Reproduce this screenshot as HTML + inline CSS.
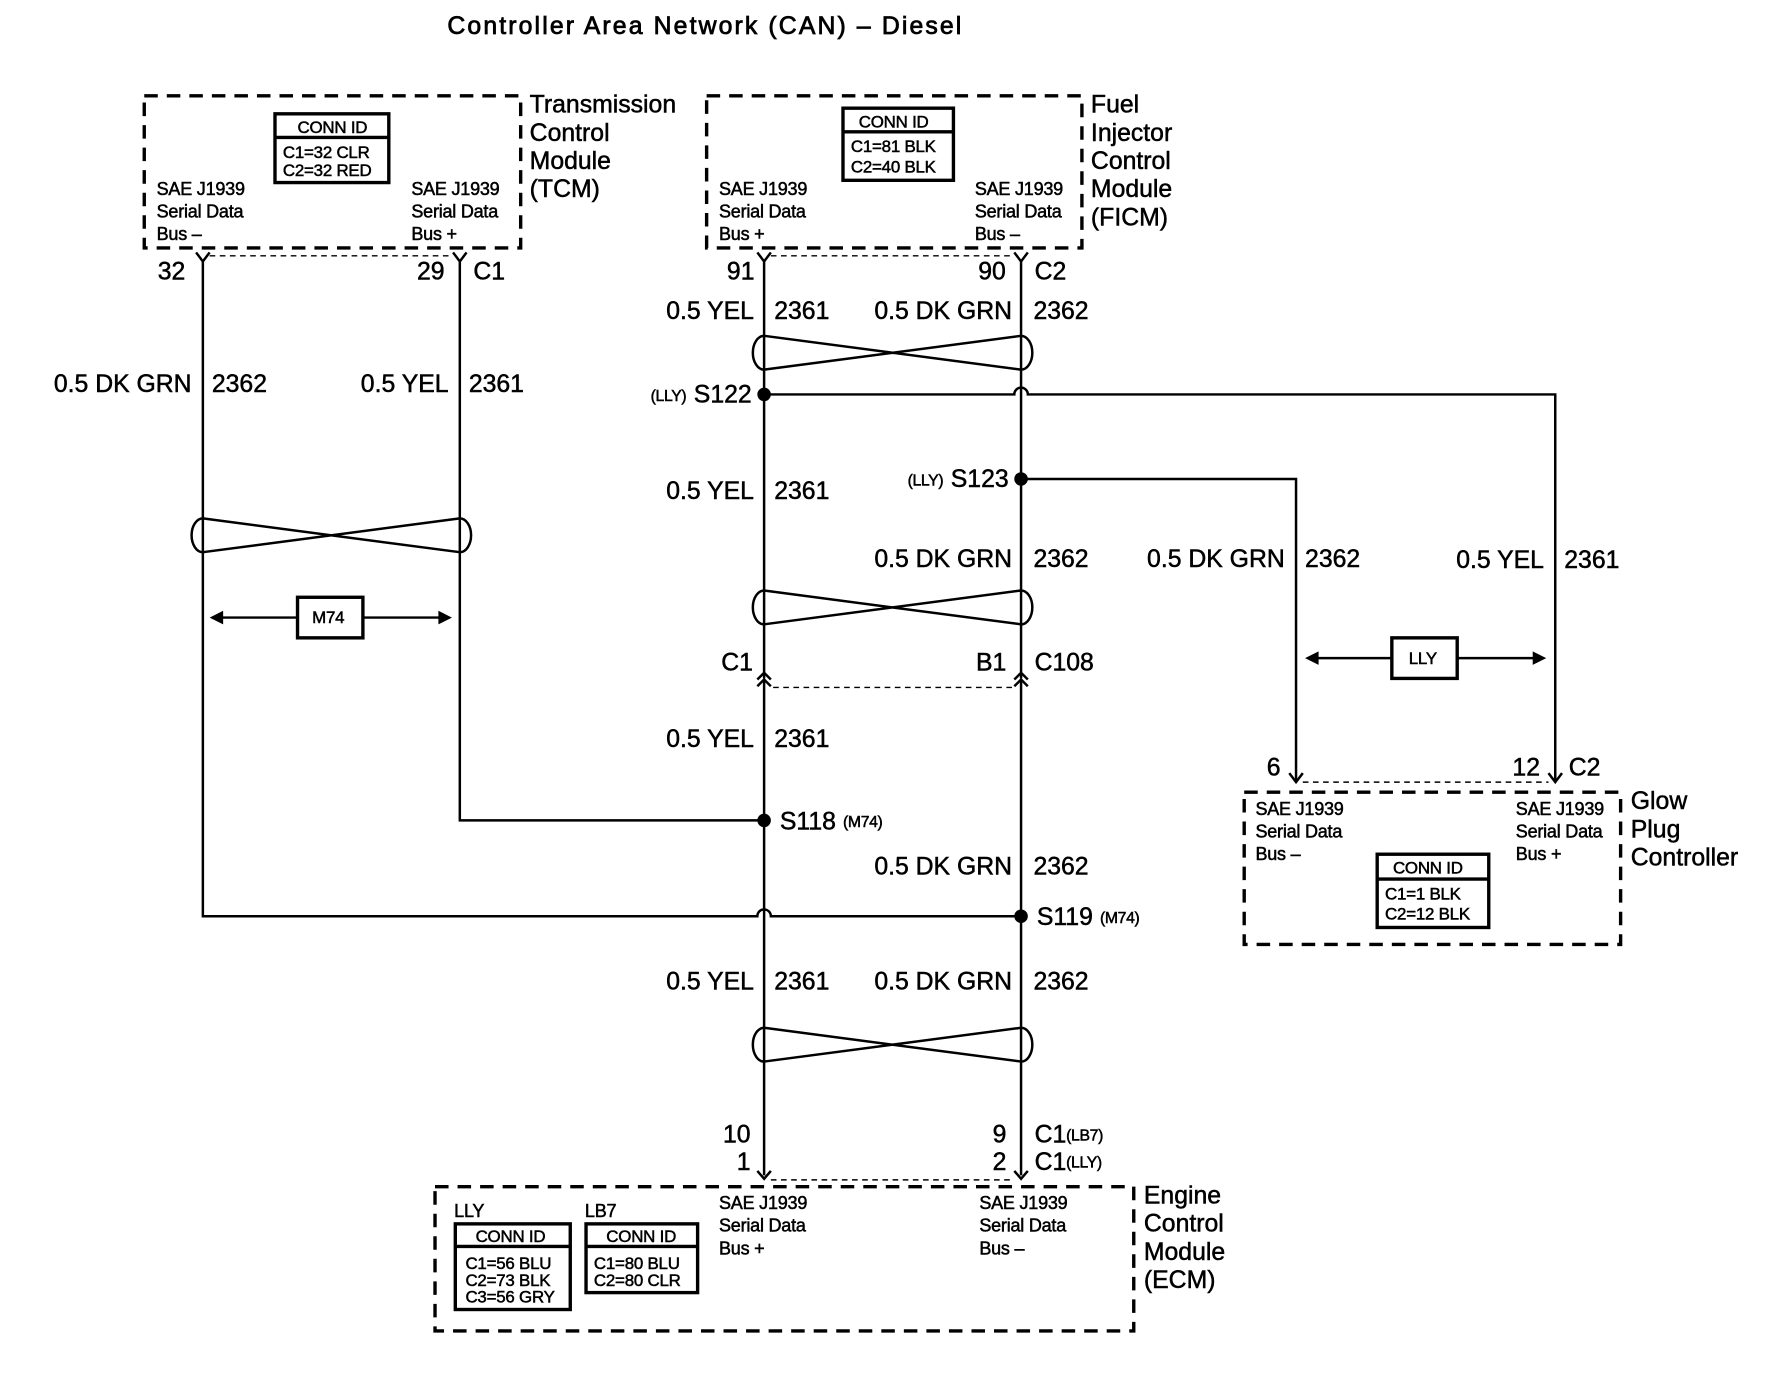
<!DOCTYPE html>
<html><head><meta charset="utf-8"><style>
html,body{margin:0;padding:0;background:#fff;}
svg{display:block;}
text{font-family:"Liberation Sans",Arial,sans-serif;fill:#000;stroke:#000;stroke-width:0.45px;}
.t{font-size:22px;}
.s{font-size:16px;letter-spacing:-0.2px;}
.xs{font-size:14px;letter-spacing:-0.3px;}
.c{font-size:15px;letter-spacing:-0.2px;}
.box{fill:none;stroke:#000;stroke-width:3;stroke-dasharray:12 8;}
.w{fill:none;stroke:#000;stroke-width:2.2;}
.d{fill:none;stroke:#000;stroke-width:1.3;stroke-dasharray:5 4;}
.k{fill:none;stroke:#000;stroke-width:3;}
</style></head><body>
<svg width="1766" height="1376" viewBox="0 0 1567 1221" preserveAspectRatio="none" xmlns="http://www.w3.org/2000/svg">
<text x="397" y="30" textLength="456" style="font-size:22px;stroke-width:0.7px">Controller Area Network (CAN) – Diesel</text>

<!-- TCM -->
<rect class="box" x="128" y="85" width="334" height="135"/>
<rect class="k" x="244" y="101" width="101" height="61"/>
<line class="k" x1="244" y1="122" x2="345" y2="122"/>
<text class="c" x="264" y="118">CONN ID</text>
<text class="c" x="251" y="140">C1=32 CLR</text>
<text class="c" x="251" y="156">C2=32 RED</text>
<text class="s" x="139" y="173">SAE J1939</text><text class="s" x="139" y="193">Serial Data</text><text class="s" x="139" y="213">Bus –</text>
<text class="s" x="365" y="173">SAE J1939</text><text class="s" x="365" y="193">Serial Data</text><text class="s" x="365" y="213">Bus +</text>
<text class="t" x="470" y="100">Transmission</text><text class="t" x="470" y="125">Control</text><text class="t" x="470" y="150">Module</text><text class="t" x="470" y="175">(TCM)</text>
<line class="d" x1="186" y1="227" x2="402" y2="227"/>
<text class="t" x="140" y="248">32</text><text class="t" x="370" y="248">29</text><text class="t" x="420" y="248">C1</text>

<!-- FICM -->
<rect class="box" x="627" y="85" width="333" height="135"/>
<rect class="k" x="748" y="96" width="98" height="64"/>
<line class="k" x1="748" y1="117" x2="846" y2="117"/>
<text class="c" x="762" y="113">CONN ID</text>
<text class="c" x="755" y="135">C1=81 BLK</text>
<text class="c" x="755" y="153">C2=40 BLK</text>
<text class="s" x="638" y="173">SAE J1939</text><text class="s" x="638" y="193">Serial Data</text><text class="s" x="638" y="213">Bus +</text>
<text class="s" x="865" y="173">SAE J1939</text><text class="s" x="865" y="193">Serial Data</text><text class="s" x="865" y="213">Bus –</text>
<text class="t" x="968" y="100">Fuel</text><text class="t" x="968" y="125">Injector</text><text class="t" x="968" y="150">Control</text><text class="t" x="968" y="175">Module</text><text class="t" x="968" y="200">(FICM)</text>
<line class="d" x1="684" y1="227" x2="900" y2="227"/>
<text class="t" x="645" y="248">91</text><text class="t" x="868" y="248">90</text><text class="t" x="918" y="248">C2</text>

<!-- Y pins top -->
<path class="w" d="M174,224 L180,232 L186,224 M402,224 L408,232 L414,224 M672,224 L678,232 L684,224 M900,224 L906,232 L912,224 M1144,686 L1150,694 L1156,686 M1374,686 L1380,694 L1386,686"/>

<!-- TCM wires -->
<path class="w" d="M180,232 V813 H672 A6,6 0 0 1 684,813 H906"/>
<path class="w" d="M408,232 V728 H678"/>
<text class="t" x="170" y="348" text-anchor="end">0.5 DK GRN</text><text class="t" x="188" y="348">2362</text>
<text class="t" x="398" y="348" text-anchor="end">0.5 YEL</text><text class="t" x="416" y="348">2361</text>
<path class="w" d="M180,460 L408,490 M180,490 L408,460 M180,460 A10,15 0 0 0 180,490 M408,460 A10,15 0 0 1 408,490"/>
<line class="w" x1="192" y1="548" x2="264" y2="548"/><line class="w" x1="322" y1="548" x2="396" y2="548"/>
<path d="M186,548 l12,-6 v12z M401,548 l-12,-6 v12z" fill="#000"/>
<rect class="k" x="264" y="530" width="58" height="36"/><text class="c" x="277" y="553">M74</text>

<!-- main verticals -->
<line class="w" x1="678" y1="232" x2="678" y2="602"/>
<line class="w" x1="906" y1="232" x2="906" y2="602"/>
<line class="w" x1="678" y1="604" x2="678" y2="1043"/>
<line class="w" x1="906" y1="604" x2="906" y2="1043"/>
<text class="t" x="669" y="283" text-anchor="end">0.5 YEL</text><text class="t" x="687" y="283">2361</text>
<text class="t" x="898" y="283" text-anchor="end">0.5 DK GRN</text><text class="t" x="917" y="283">2362</text>
<path class="w" d="M678,298 L906,328 M678,328 L906,298 M678,298 A10,15 0 0 0 678,328 M906,298 A10,15 0 0 1 906,328"/>

<!-- S122 -->
<path class="w" d="M678,350 H900 A6,6 0 0 1 912,350 H1380 V694"/>
<circle cx="678" cy="350" r="6"/>
<text class="xs" x="609" y="356" text-anchor="end">(LLY)</text><text class="t" x="667" y="357" text-anchor="end">S122</text>
<text class="t" x="669" y="443" text-anchor="end">0.5 YEL</text><text class="t" x="687" y="443">2361</text>
<!-- S123 -->
<path class="w" d="M906,425 H1150 V694"/>
<circle cx="906" cy="425" r="6"/>
<text class="xs" x="837" y="431" text-anchor="end">(LLY)</text><text class="t" x="895" y="432" text-anchor="end">S123</text>
<text class="t" x="898" y="503" text-anchor="end">0.5 DK GRN</text><text class="t" x="917" y="503">2362</text>
<text class="t" x="1140" y="503" text-anchor="end">0.5 DK GRN</text><text class="t" x="1158" y="503">2362</text>
<text class="t" x="1370" y="504" text-anchor="end">0.5 YEL</text><text class="t" x="1388" y="504">2361</text>
<path class="w" d="M678,524 L906,554 M678,554 L906,524 M678,524 A10,15 0 0 0 678,554 M906,524 A10,15 0 0 1 906,554"/>

<!-- C108 -->
<path class="w" d="M672,603 L678,597 L684,603 M672,609 L678,603 L684,609 M900,603 L906,597 L912,603 M900,609 L906,603 L912,609"/>
<line class="d" x1="686" y1="610" x2="900" y2="610"/>
<text class="t" x="640" y="595">C1</text><text class="t" x="866" y="595">B1</text><text class="t" x="918" y="595">C108</text>

<!-- LLY arrow -->
<line class="w" x1="1164" y1="584" x2="1235" y2="584"/><line class="w" x1="1293" y1="584" x2="1366" y2="584"/>
<path d="M1158,584 l12,-6 v12z M1372,584 l-12,-6 v12z" fill="#000"/>
<rect class="k" x="1235" y="566" width="58" height="36"/><text class="c" x="1250" y="589">LLY</text>

<text class="t" x="669" y="663" text-anchor="end">0.5 YEL</text><text class="t" x="687" y="663">2361</text>
<circle cx="678" cy="728" r="6"/>
<text class="t" x="692" y="736">S118</text><text class="xs" x="748" y="734">(M74)</text>
<text class="t" x="898" y="776" text-anchor="end">0.5 DK GRN</text><text class="t" x="917" y="776">2362</text>
<circle cx="906" cy="813" r="6"/>
<text class="t" x="920" y="821">S119</text><text class="xs" x="976" y="819">(M74)</text>
<text class="t" x="669" y="878" text-anchor="end">0.5 YEL</text><text class="t" x="687" y="878">2361</text>
<text class="t" x="898" y="878" text-anchor="end">0.5 DK GRN</text><text class="t" x="917" y="878">2362</text>
<path class="w" d="M678,912 L906,942 M678,942 L906,912 M678,912 A10,15 0 0 0 678,942 M906,912 A10,15 0 0 1 906,942"/>

<!-- ECM pins -->
<text class="t" x="666" y="1014" text-anchor="end">10</text><text class="t" x="666" y="1038" text-anchor="end">1</text>
<text class="t" x="893" y="1014" text-anchor="end">9</text><text class="t" x="918" y="1014">C1</text><text class="xs" x="946" y="1012">(LB7)</text>
<text class="t" x="893" y="1038" text-anchor="end">2</text><text class="t" x="918" y="1038">C1</text><text class="xs" x="946" y="1036">(LLY)</text>
<path class="w" d="M672,1039 L678,1046 L684,1039 M900,1039 L906,1046 L912,1039"/>
<line class="d" x1="684" y1="1047" x2="900" y2="1047"/>

<!-- ECM -->
<rect class="box" x="386" y="1053" width="620" height="128"/>
<text class="t" x="1015" y="1068">Engine</text><text class="t" x="1015" y="1093">Control</text><text class="t" x="1015" y="1118">Module</text><text class="t" x="1015" y="1143">(ECM)</text>
<text class="s" x="403" y="1080">LLY</text>
<rect class="k" x="404" y="1086" width="102" height="76"/><line class="k" x1="404" y1="1106" x2="506" y2="1106"/>
<text class="c" x="422" y="1102">CONN ID</text>
<text class="c" x="413" y="1126">C1=56 BLU</text><text class="c" x="413" y="1141">C2=73 BLK</text><text class="c" x="413" y="1156">C3=56 GRY</text>
<text class="s" x="519" y="1080">LB7</text>
<rect class="k" x="520" y="1086" width="99" height="61"/><line class="k" x1="520" y1="1106" x2="619" y2="1106"/>
<text class="c" x="538" y="1102">CONN ID</text>
<text class="c" x="527" y="1126">C1=80 BLU</text><text class="c" x="527" y="1141">C2=80 CLR</text>
<text class="s" x="638" y="1073">SAE J1939</text><text class="s" x="638" y="1093">Serial Data</text><text class="s" x="638" y="1113">Bus +</text>
<text class="s" x="869" y="1073">SAE J1939</text><text class="s" x="869" y="1093">Serial Data</text><text class="s" x="869" y="1113">Bus –</text>

<!-- Glow plug -->
<line class="d" x1="1156" y1="694" x2="1374" y2="694"/>
<text class="t" x="1124" y="688">6</text><text class="t" x="1342" y="688">12</text><text class="t" x="1392" y="688">C2</text>
<rect class="box" x="1104" y="703" width="334" height="135"/>
<text class="t" x="1447" y="718">Glow</text><text class="t" x="1447" y="743">Plug</text><text class="t" x="1447" y="768">Controller</text>
<text class="s" x="1114" y="723">SAE J1939</text><text class="s" x="1114" y="743">Serial Data</text><text class="s" x="1114" y="763">Bus –</text>
<text class="s" x="1345" y="723">SAE J1939</text><text class="s" x="1345" y="743">Serial Data</text><text class="s" x="1345" y="763">Bus +</text>
<rect class="k" x="1222" y="758" width="99" height="65"/><line class="k" x1="1222" y1="780" x2="1321" y2="780"/>
<text class="c" x="1236" y="775">CONN ID</text>
<text class="c" x="1229" y="798">C1=1 BLK</text><text class="c" x="1229" y="816">C2=12 BLK</text>
</svg>
</body></html>
